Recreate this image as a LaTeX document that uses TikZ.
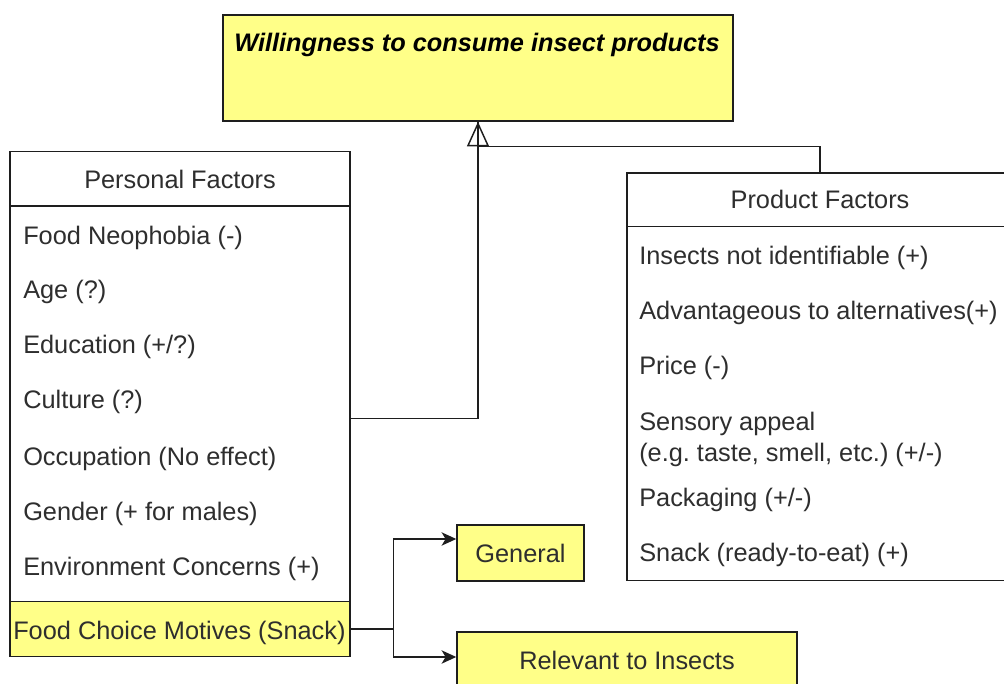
\documentclass[tikz,border=0pt]{standalone}
\usepackage{fontspec}
\setmainfont{Liberation Sans}
\usetikzlibrary{arrows.meta,calc}
\definecolor{dioyellow}{HTML}{FFFF88}
\definecolor{lc}{HTML}{1E1E1E}
\definecolor{txt}{HTML}{2E2E2E}
\frenchspacing
\begin{document}
\begin{tikzpicture}[x=0.75pt,y=-0.75pt,
  font=\fontsize{19}{23}\selectfont,
  boxline/.style={draw=lc,line width=1.1pt},
  ybox/.style={boxline,fill=dioyellow,text=txt,inner sep=0pt},
  wbox/.style={boxline,fill=white,inner sep=0pt},
  item/.style={anchor=base west,inner sep=0pt,text=txt},
  head/.style={anchor=base,inner sep=0pt,text=txt},
  conn/.style={draw=lc,line width=1.1pt},
  arr/.style={conn,-{Stealth[length=11pt,width=10pt,inset=3pt]}},
  inh/.style={conn,-{Triangle[open,length=18.5pt,width=16.5pt]}}
]
\clip (0,0) rectangle (1004,684);
\fill[white] (0,0) rectangle (1004,684);

% top box
\node[ybox,minimum width=382.5pt,minimum height=79.5pt] (title) at (478,68) {};
\node[anchor=base,inner sep=0pt,font=\fontsize{19}{23}\selectfont\bfseries\itshape] (titletext) at (477,52) {Willingness to consume insect products};

% personal factors
\node[wbox,minimum width=255pt,minimum height=379pt] (personal) at (180,404) {};
\draw[boxline] ([yshift=-41.6pt]personal.north west) -- ([yshift=-41.6pt]personal.north east);
\node[head] (ph) at (180,189) {Personal Factors};
\node[item] (p1) at (23,245) {Food Neophobia (-)};
\node[item] (p2) at (23,299) {Age (?)};
\node[item] (p3) at (23,354) {Education (+/?)};
\node[item] (p4) at (23,409) {Culture (?)};
\node[item] (p5) at (23,465) {Occupation (No effect)};
\node[item] (p6) at (23,520) {Gender (+ for males)};
\node[item] (p7) at (23,575) {Environment Concerns (+)};
\node[ybox,minimum width=255pt,minimum height=41.25pt] (fcm) at (180,629) {};
\node[item] (fcmtext) at (13,639) {Food Choice Motives (Snack)};

% product factors
\node[wbox,minimum width=289.5pt,minimum height=305.6pt] (product) at (820,376.75) {};
\draw[boxline] ([yshift=-40.5pt]product.north west) -- ([yshift=-40.5pt]product.north east);
\node[head] (prh) at (820,209) {Product Factors};
\node[item] (q1) at (639,265) {Insects not identifiable (+)};
\node[item] (q2) at (639,320) {Advantageous to alternatives(+)};
\node[item] (q3) at (639,375) {Price (-)};
\node[item] (q4) at (639,431) {Sensory appeal};
\node[item] (q4b) at (639,461) {(e.g. taste, smell, etc.) (+/-)};
\node[item] (q5) at (639,506) {Packaging (+/-)};
\node[item] (q6) at (639,561) {Snack (ready-to-eat) (+)};

% motives sub boxes
\node[ybox,minimum width=95.25pt,minimum height=42pt] (general) at (520.5,553) {General};
\node[ybox,minimum width=255pt,minimum height=42pt] (relevant) at (627,660) {Relevant to Insects};

% connectors
\coordinate (pj) at (478,146.5);
\draw[conn] ([yshift=-10.9pt]personal.east) -| (title.south);
\draw[inh] (product.north) |- (pj) -- (title.south);
\draw[arr] (fcm.east) -- ++(43,0) |- ([yshift=10.5pt]general.west);
\draw[arr] (fcm.east) -- ++(43,0) |- ([yshift=2.25pt]relevant.west);
\end{tikzpicture}
\end{document}
